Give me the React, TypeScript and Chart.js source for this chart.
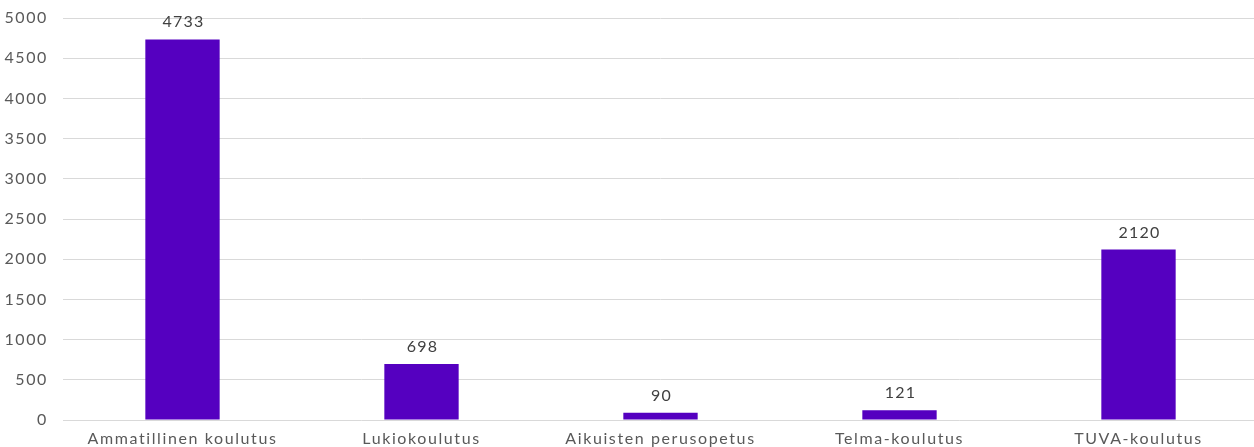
import React, { useEffect, useRef } from "react";
import { Chart, registerables } from "chart.js";

Chart.register(...registerables);

const categories = [
  "Ammatillinen koulutus",
  "Lukiokoulutus",
  "Aikuisten perusopetus",
  "Telma-koulutus",
  "TUVA-koulutus",
];
const values = [4733, 698, 90, 121, 2120];

const FONT = "Lato, 'Noto Sans', sans-serif";

const spacingPlugin = {
  id: "spacing",
  beforeDraw(chart: any) {
    (chart.ctx as any).letterSpacing = "1.6px";
  },
};

const valueLabelPlugin = {
  id: "valueLabels",
  afterDatasetsDraw(chart: any) {
    const { ctx } = chart;
    const meta = chart.getDatasetMeta(0);
    ctx.save();
    (ctx as any).letterSpacing = "1.2px";
    ctx.font = `16px ${FONT}`;
    ctx.fillStyle = "#404040";
    ctx.textAlign = "center";
    ctx.textBaseline = "alphabetic";
    meta.data.forEach((bar: any, i: number) => {
      ctx.fillText(String(values[i]), bar.x + 1, bar.y - 12);
    });
    ctx.restore();
  },
};

export default function App() {
  const ref = useRef<HTMLCanvasElement | null>(null);
  useEffect(() => {
    document.body.style.margin = "0";
    const chart = new Chart(ref.current as HTMLCanvasElement, {
      type: "bar",
      data: {
        labels: categories,
        datasets: [
          {
            data: values,
            backgroundColor: "#5500C0",
            categoryPercentage: 0.311,
            barPercentage: 1,
          },
        ],
      },
      options: {
        animation: false,
        responsive: false,
        maintainAspectRatio: false,
        layout: { padding: { top: 18, right: 0, left: 0, bottom: 0 } },
        plugins: { legend: { display: false }, tooltip: { enabled: false } },
        scales: {
          x: {
            grid: { display: false },
            border: { display: false },
            ticks: {
              color: "#595959",
              font: { size: 16, family: FONT },
              padding: 1,
              maxRotation: 0,
              autoSkip: false,
            },
            afterFit: (s: any) => {
              s.height = 27;
              s.paddingLeft = 0;
              s.paddingRight = 0;
            },
          },
          y: {
            min: 0,
            max: 5000,
            grid: { color: "#d9d9d9", drawTicks: false, lineWidth: 1 },
            border: { display: false },
            ticks: {
              stepSize: 500,
              color: "#595959",
              font: { size: 16, family: FONT },
              padding: 15,
              callback: (v: any) => String(v),
            },
            afterFit: (s: any) => {
              s.width = 63;
              s.paddingTop = 0;
              s.paddingBottom = 0;
            },
          },
        },
      },
      plugins: [spacingPlugin, valueLabelPlugin],
    });
    return () => chart.destroy();
  }, []);
  return (
    <div style={{ width: 1254, height: 447, overflow: "hidden" }}>
      <canvas ref={ref} width={1258} height={447} style={{ display: "block" }} />
    </div>
  );
}
